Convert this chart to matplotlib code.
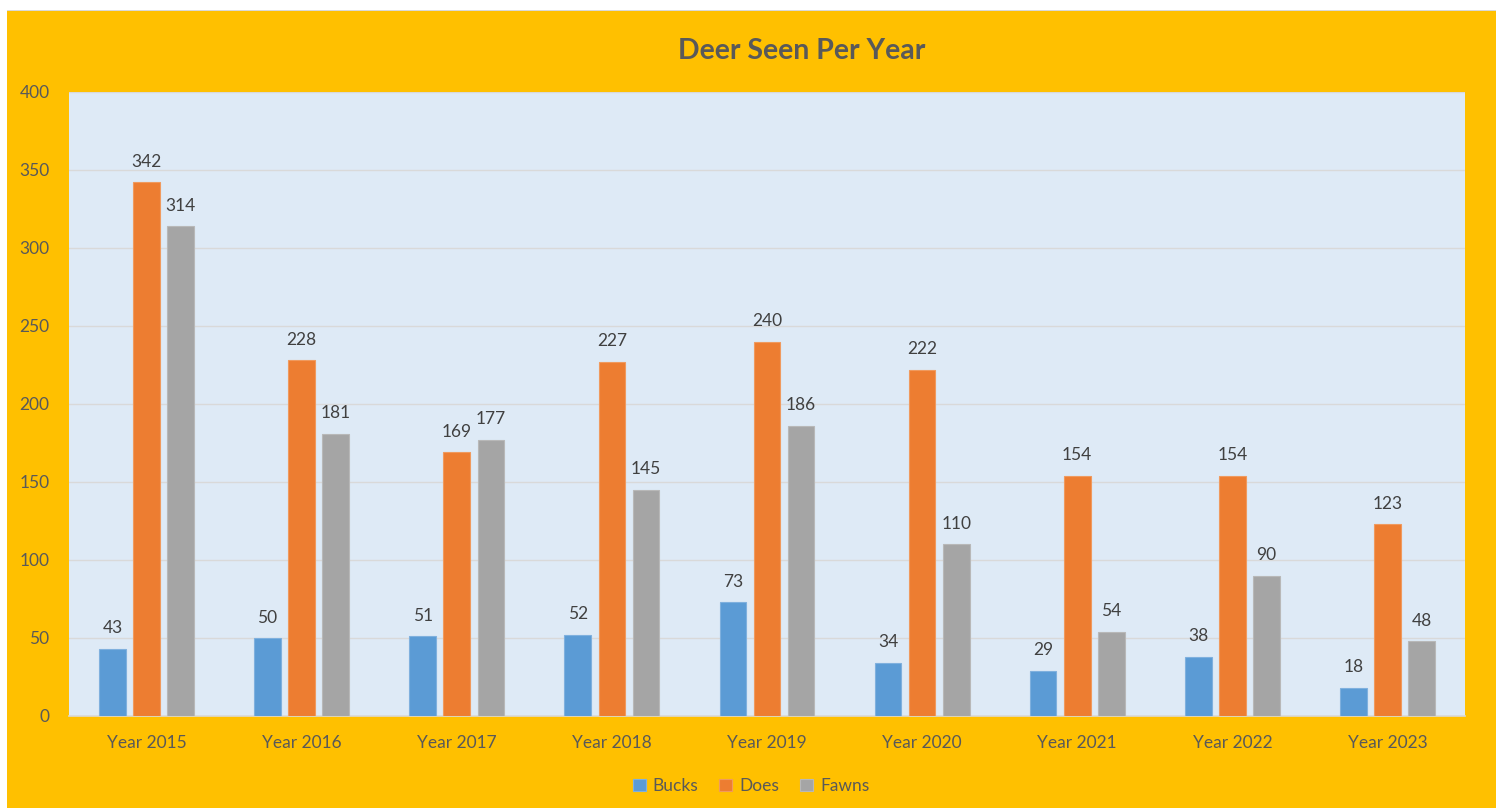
import matplotlib
matplotlib.use("Agg")
import matplotlib.pyplot as plt
import numpy as np
from matplotlib.patches import Rectangle

categories = ["Year 2015", "Year 2016", "Year 2017", "Year 2018", "Year 2019",
              "Year 2020", "Year 2021", "Year 2022", "Year 2023"]
bucks = [43, 50, 51, 52, 73, 34, 29, 38, 18]
does = [342, 228, 169, 227, 240, 222, 154, 154, 123]
fawns = [314, 181, 177, 145, 186, 110, 54, 90, 48]
series_names = ["Bucks", "Does", "Fawns"]
colors = ["#5B9BD5", "#ED7D31", "#A5A5A5"]
edge_colors = ["#7FB0DE", "#F09A5E", "#B8B8B8"]

plt.rcParams['font.family'] = ['Lato', 'DejaVu Sans']

W, H = 1496, 808
fig = plt.figure(figsize=(W / 100, H / 100), dpi=100, facecolor="white")
# orange chart background
fig.add_artist(Rectangle((7 / W, 0), 1 - 7 / W, 1 - 11 / H, transform=fig.transFigure,
                         facecolor="#FFC000", edgecolor="none", zorder=-10))
fig.add_artist(Rectangle((7 / W, 1 - 11 / H), 1 - 7 / W, 1.5 / H, transform=fig.transFigure,
                         facecolor="#D9D9D9", edgecolor="none", zorder=-10))

left, right, top, bottom = 69, 1465, 92, 716
ax = fig.add_axes([left / W, 1 - bottom / H, (right - left) / W, (bottom - top) / H])
ax.set_zorder(1)
ax.set_facecolor("#DEEAF6")

x = np.arange(len(categories))
width = 0.172
pitch = 0.22
data = [bucks, does, fawns]
for i, (vals, c, ec, name) in enumerate(zip(data, colors, edge_colors, series_names)):
    pos = x + (i - 1) * pitch
    ax.bar(pos, vals, width=width, color=c, edgecolor=ec, linewidth=0.8,
           label=name, zorder=3)
    for p, v in zip(pos, vals):
        ax.text(p, v + 8, str(v), ha="center", va="bottom", fontsize=12.5,
                color="#404040", zorder=4)

ax.set_xlim(-0.5, len(categories) - 0.5)
ax.set_ylim(0, 400)
ax.set_yticks(np.arange(0, 401, 50))
ax.set_xticks(x)
ax.set_xticklabels(categories)
ax.yaxis.grid(True, color="#D9D9D9", linewidth=1, zorder=0)
ax.set_axisbelow(True)
for s in ["top", "right", "left"]:
    ax.spines[s].set_visible(False)
ax.spines["bottom"].set_color("#D9D9D9")
ax.spines["bottom"].set_linewidth(1.2)
ax.tick_params(axis="both", length=0, labelsize=12.5, labelcolor="#595959")
ax.tick_params(axis="x", pad=14)
ax.tick_params(axis="y", pad=14)

fig.text(802 / W, 1 - 51 / H, "Deer Seen Per Year", ha="center", va="center",
         fontsize=20.5, fontweight="bold", color="#595959")

handles, labels = ax.get_legend_handles_labels()
fig.legend(handles, labels, loc="center", bbox_to_anchor=(751 / W, 1 - 786 / H),
           ncol=3, frameon=False, fontsize=12.5, handlelength=0.75, handleheight=0.75,
           columnspacing=1.2, handletextpad=0.4, labelcolor="#595959")

fig.savefig("out.png", dpi=100, facecolor=fig.get_facecolor())
